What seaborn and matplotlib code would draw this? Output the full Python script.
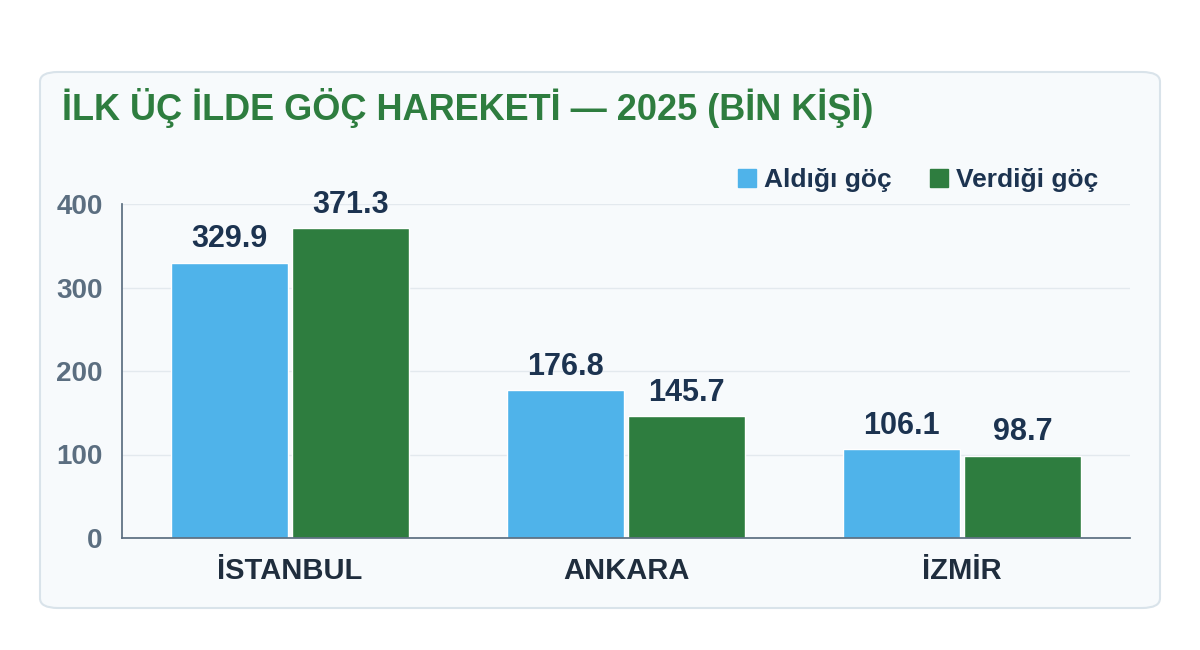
import matplotlib
matplotlib.use("Agg")
import matplotlib.pyplot as plt
import seaborn as sns
import pandas as pd
from matplotlib.patches import FancyBboxPatch
from matplotlib.lines import Line2D

cities = ["İSTANBUL", "ANKARA", "İZMİR"]
series = ["Aldığı göç", "Verdiği göç"]
aldigi = [329.9, 176.8, 106.1]
verdigi = [371.3, 145.7, 98.7]
yticks = [0, 100, 200, 300, 400]

df = pd.DataFrame({
    "city": cities * 2,
    "series": [series[0]] * 3 + [series[1]] * 3,
    "value": aldigi + verdigi,
})

sns.set_theme(style="white")
plt.rcParams['font.family'] = ['Liberation Sans', 'DejaVu Sans']

fig = plt.figure(figsize=(12, 6.5), dpi=100)
fig.patch.set_facecolor("white")
card = FancyBboxPatch((40/1200, 1-608/650), 1120/1200, 536/650,
                      boxstyle="round,pad=0,rounding_size=0.015",
                      transform=fig.transFigure, facecolor="#f7fafc",
                      edgecolor="#d9e3ea", linewidth=1.5, zorder=-10)
fig.patches.append(card)

ax = fig.add_axes([122/1200, 1-538/650, 1008/1200, 334/650])
ax.set_zorder(5)
ax.set_facecolor("none")
palette = {series[0]: "#4fb3ea", series[1]: "#2e7d3f"}
sns.barplot(data=df, x="city", y="value", hue="series", palette=palette,
            width=0.72, gap=0.03, ax=ax, saturation=1, legend=False)
ax.set_ylim(0, 400)
ax.set_yticks(yticks)
ax.set_yticklabels([str(t) for t in yticks], fontsize=20, fontweight="bold", color="#5b6e80")
ax.tick_params(axis="x", labelsize=21, colors="#1f2d3d", pad=14, length=0)
for l in ax.get_xticklabels():
    l.set_fontweight("bold")
ax.tick_params(axis="y", length=0, pad=14)
ax.set_xlabel("")
ax.set_ylabel("")
ax.grid(axis="y", color="#e3e9ee", linewidth=1)
ax.set_axisbelow(True)
for s in ["top", "right"]:
    ax.spines[s].set_visible(False)
ax.spines["left"].set_color("#5b6e80")
ax.spines["bottom"].set_color("#5b6e80")
for c in ax.containers:
    ax.bar_label(c, labels=[f"{v:.1f}" for v in c.datavalues], padding=6,
                 fontsize=22, fontweight="bold", color="#1c3350")

fig.text(62/1200, 1-108/650, "İLK ÜÇ İLDE GÖÇ HAREKETİ — 2025 (BİN KİŞİ)",
         fontsize=26, fontweight="bold", color="#2e7d3f", va="center")

handles = [Line2D([], [], marker="s", linestyle="", markersize=13,
                  markerfacecolor=palette[s], markeredgecolor=palette[s]) for s in series]
leg = fig.legend(handles, series, loc="center right", bbox_to_anchor=(1122/1200, 1-180/650),
                 ncol=2, frameon=False, handletextpad=0.15, columnspacing=1.3,
                 handlelength=1.0, prop={"weight": "bold", "size": 19})
for t in leg.get_texts():
    t.set_color("#1c3350")

fig.savefig("out.png", dpi=100)
